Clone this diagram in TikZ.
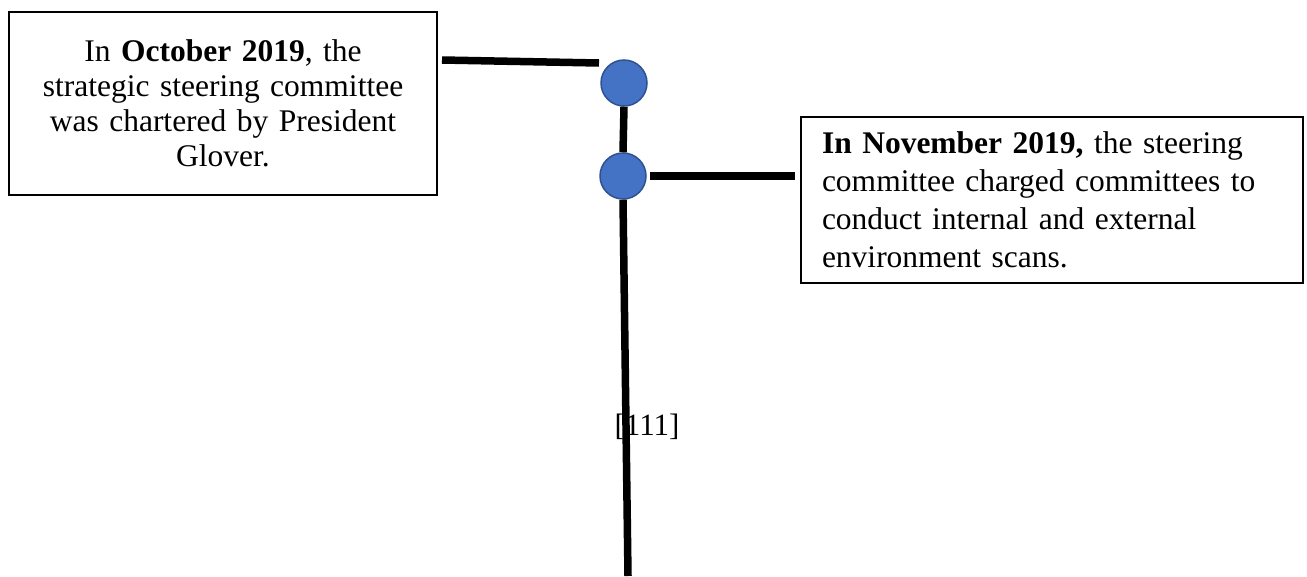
\documentclass[tikz,border=0pt]{standalone}
\usepackage{fontspec}
\setmainfont{Liberation Serif}
\definecolor{dotfill}{HTML}{4472C4}
\definecolor{dotline}{HTML}{2F528F}
\begin{document}
\begin{tikzpicture}[x=1pt,y=-1pt,
  textbox/.style={draw=black,line width=1.5pt,inner sep=0pt,font=\fontsize{31.5}{35}\selectfont},
  dot/.style={circle,draw=dotline,fill=dotfill,line width=1.5pt,minimum size=46pt,inner sep=0pt},
  link/.style={line width=7.5pt,black}]
\useasboundingbox (0,0) rectangle (1307,576);
% boxes
\node[textbox,minimum width=428pt,minimum height=183pt,text width=428pt,align=center] (oct) at (223,103.5)
  {In \textbf{October 2019}, the\\strategic steering committee\\was chartered by President\\Glover.};
\node[textbox,minimum width=502pt,minimum height=166pt,text width=460pt,align=left,font=\fontsize{31.5}{38}\selectfont] (nov) at (1052,200)
  {\textbf{In November 2019,} the steering\\committee charged committees to\\conduct internal and external\\environment scans.};
% label under the line
\node[font=\fontsize{31}{36}\selectfont,inner sep=0pt] (lbl) at (647,427) {[111]};
% circles
\node[dot] (c1) at (624,83) {};
\node[dot] (c2) at (623,176) {};
% free ends
\coordinate (a1) at (442,60);
\coordinate (a2) at (599,63);
\coordinate (b1) at (650,176);
\coordinate (b2) at (795,176);
\coordinate (bot) at (628,576);
% connectors
\draw[link] (a1) -- (a2);
\draw[link] (b1) -- (b2);
\draw[link] (c1.south) -- (c2.north);
\draw[link] (c2.south) -- (bot);
\end{tikzpicture}
\end{document}
